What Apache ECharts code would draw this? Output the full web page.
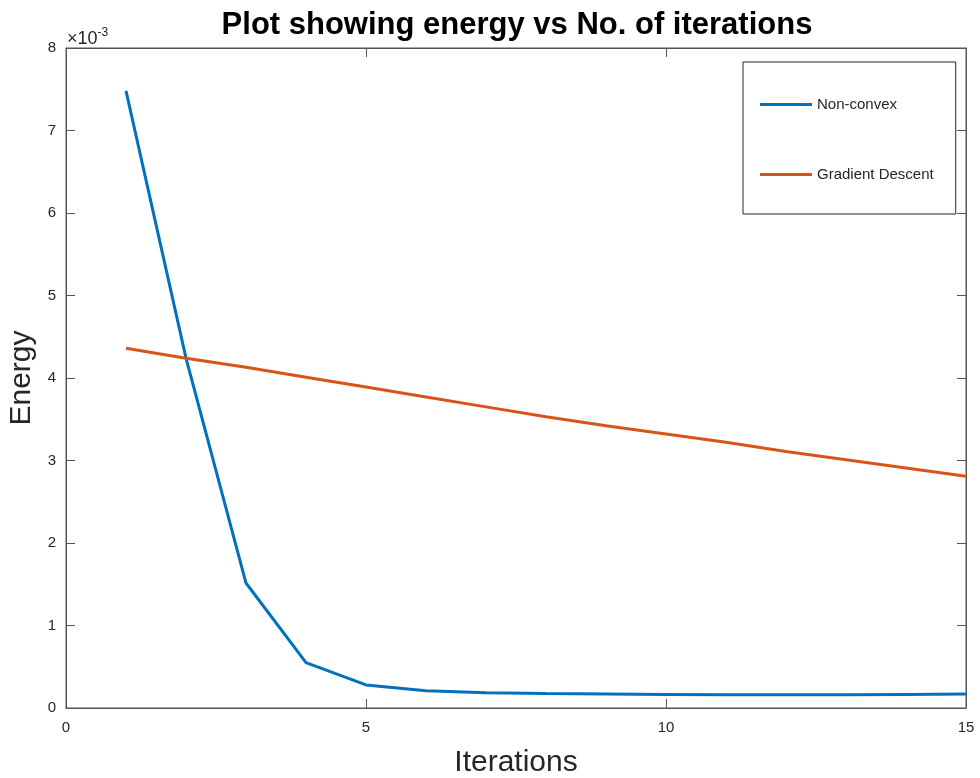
<!DOCTYPE html>
<html>
<head>
<meta charset="utf-8">
<script src="https://cdn.jsdelivr.net/npm/echarts@6/dist/echarts.min.js"></script>
<style>
  html, body { margin: 0; padding: 0; background: #fff; }
  #main { width: 980px; height: 778px; }
</style>
</head>
<body>
<div id="main"></div>
<script>
// iterations 1..15
const iterations = [1, 2, 3, 4, 5, 6, 7, 8, 9, 10, 11, 12, 13, 14, 15]
// energy values (x 1e-3)
const nonConvex = [7.48, 4.24, 1.515, 0.55, 0.28, 0.21, 0.185, 0.175, 0.17, 0.165, 0.16, 0.16, 0.16, 0.165, 0.17]
const gradientDescent = [4.36, 4.24, 4.13, 4.01, 3.89, 3.77, 3.65, 3.53, 3.42, 3.32, 3.22, 3.11, 3.01, 2.91, 2.81]
const xTicks = [0, 5, 10, 15]
const yTicks = [0, 1, 2, 3, 4, 5, 6, 7, 8]

const font = 'Liberation Sans, Helvetica, Arial, sans-serif'
const axisColor = '#555'
const textColor = '#262626'

const myChart = echarts.init(document.getElementById('main'))

const pairs = arr => iterations.map((x, i) => [x, arr[i] / 1000])

const baseX = {
  type: 'value',
  min: xTicks[0],
  max: xTicks[xTicks.length - 1],
  interval: 5,
  splitLine: { show: false },
  axisLine: { show: true, onZero: false, lineStyle: { color: axisColor } },
  axisTick: { show: true, inside: true, length: 9, lineStyle: { color: axisColor } }
}
const baseY = {
  type: 'value',
  min: yTicks[0] / 1000,
  max: yTicks[yTicks.length - 1] / 1000,
  interval: 0.001,
  splitLine: { show: false },
  axisLine: { show: true, onZero: false, lineStyle: { color: axisColor } },
  axisTick: { show: true, inside: true, length: 9, lineStyle: { color: axisColor } }
}

const option = {
  animation: false,
  textStyle: { fontFamily: font },
  title: {
    text: 'Plot showing energy vs No. of iterations',
    left: 512,
    textAlign: 'center',
    top: 5,
    textStyle: { fontSize: 31, fontWeight: 'bold', color: '#000', fontFamily: font }
  },
  legend: {
    orient: 'vertical',
    left: 743,
    top: 62,
    padding: [35, 22, 32, 17],
    icon: 'rect',
    itemWidth: 52,
    itemHeight: 3,
    itemGap: 55,
    backgroundColor: '#fff',
    borderColor: '#262626',
    borderWidth: 1,
    textStyle: { fontSize: 15, lineHeight: 14, color: textColor, fontFamily: font },
    data: ['Non-convex', 'Gradient Descent']
  },
  grid: {
    left: 66,
    right: 14,
    top: 48,
    bottom: 70,
    outerBoundsMode: 'none',
    show: true,
    borderColor: axisColor,
    borderWidth: 1,
    backgroundColor: '#fff'
  },
  xAxis: [
    Object.assign({}, baseX, {
      position: 'bottom',
      name: 'Iterations',
      nameLocation: 'middle',
      nameGap: 40,
      nameTextStyle: { fontSize: 30, color: textColor, fontFamily: font },
      axisLabel: { fontSize: 15, color: textColor, margin: 12 }
    }),
    Object.assign({}, baseX, {
      position: 'top',
      axisLabel: { show: false }
    })
  ],
  yAxis: [
    Object.assign({}, baseY, {
      position: 'left',
      name: 'Energy',
      nameLocation: 'middle',
      nameGap: 28,
      nameTextStyle: { fontSize: 30, color: textColor, fontFamily: font },
      axisLabel: {
        fontSize: 15,
        color: textColor,
        margin: 10,
        formatter: v => String(Math.round(v * 1000))
      }
    }),
    Object.assign({}, baseY, {
      position: 'right',
      axisLabel: { show: false }
    })
  ],
  graphic: [
    {
      type: 'text',
      left: 67,
      top: 27,
      style: {
        text: '{a|×10}{b|-3}',
        rich: {
          a: { fontSize: 18, fill: textColor, fontFamily: font, verticalAlign: 'bottom' },
          b: { fontSize: 12, fill: textColor, fontFamily: font, verticalAlign: 'top', padding: [0, 0, 9, 0] }
        }
      }
    }
  ],
  series: [
    {
      name: 'Non-convex',
      type: 'line',
      symbol: 'none',
      color: '#0072BD',
      lineStyle: { width: 3, color: '#0072BD' },
      data: pairs(nonConvex)
    },
    {
      name: 'Gradient Descent',
      type: 'line',
      symbol: 'none',
      color: '#D95319',
      lineStyle: { width: 3, color: '#D95319' },
      data: pairs(gradientDescent)
    }
  ]
}
option && myChart.setOption(option)
</script>
</body>
</html>
